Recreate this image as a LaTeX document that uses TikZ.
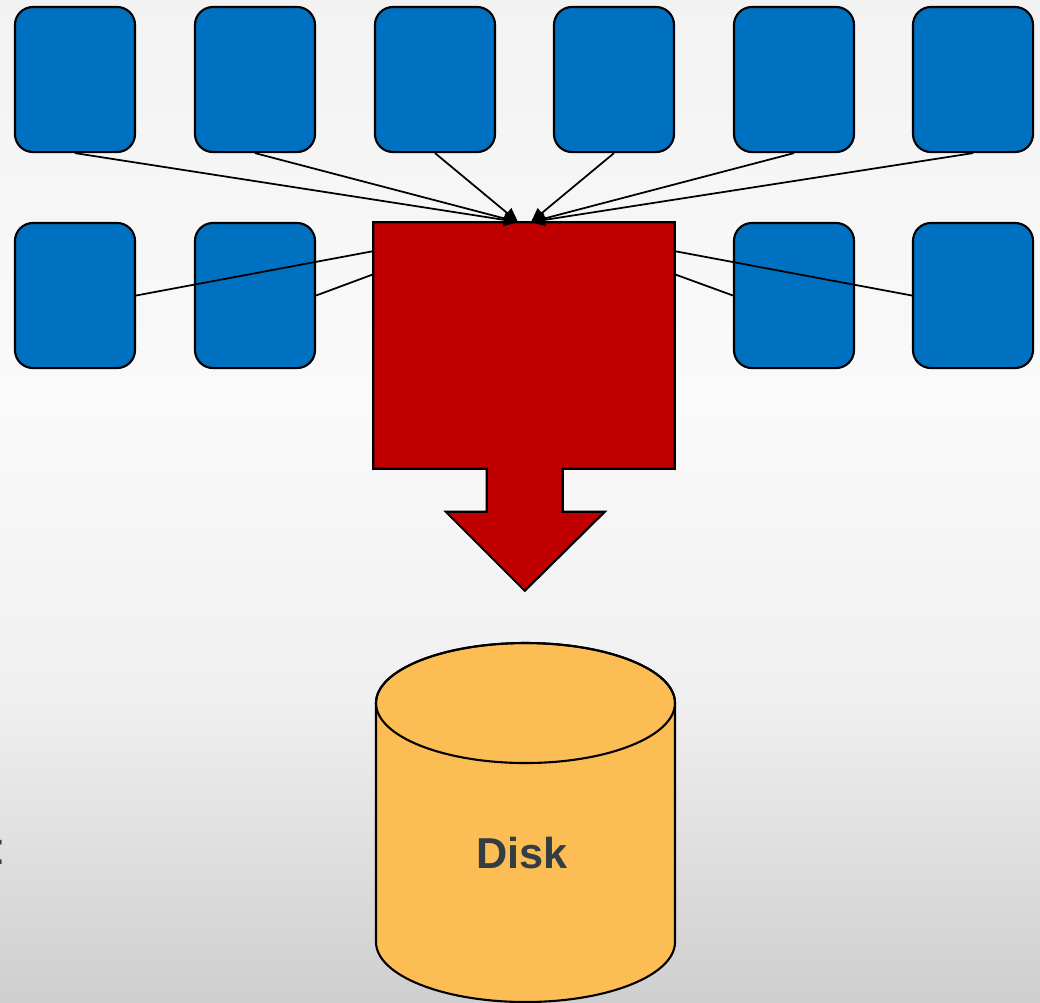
\documentclass[tikz,border=0pt]{standalone}
\usepackage{fontspec}
\setmainfont{Liberation Sans}
\usetikzlibrary{arrows.meta, positioning}

\definecolor{procblue}{HTML}{0070C0}
\definecolor{bufred}{HTML}{C00000}
\definecolor{diskorange}{HTML}{FDBD55}
\definecolor{labelgray}{HTML}{333D42}

\tikzset{
  proc/.style={draw, fill=procblue, line width=0.6pt, rounded corners=0.18cm,
    minimum width=1.2cm, minimum height=1.45cm, inner sep=0pt},
  feed/.style={line width=0.5pt},
}

\begin{document}
\begin{tikzpicture}[x=0.01cm, y=-0.01cm, >={Triangle[length=4pt, width=3.6pt]}]
  \useasboundingbox (0,0) rectangle (1040,1002);
  % backdrop, light on top and greying towards the bottom
  \shade[top color=black!5, bottom color=black!2] (0,0) rectangle (1040,400.5);
  \shade[top color=black!2, bottom color=black!6] (0,400) rectangle (1040,700.5);
  \shade[top color=black!6, bottom color=black!19] (0,700) rectangle (1040,1002);

  % processes, top row
  \node[proc] (t1) at (75, 79.5)  {};
  \node[proc] (t2) at (255, 79.5) {};
  \node[proc] (t3) at (435, 79.5) {};
  \node[proc] (t4) at (614, 79.5) {};
  \node[proc] (t5) at (794, 79.5) {};
  \node[proc] (t6) at (973, 79.5) {};
  % processes, second row
  \node[proc] (m1) at (75, 295.5)  {};
  \node[proc] (m2) at (255, 295.5) {};
  \node[proc] (m5) at (794, 295.5) {};
  \node[proc] (m6) at (973, 295.5) {};

  % shared buffer with the flush arrow
  \node[minimum width=3cm, minimum height=2.45cm, inner sep=0pt] (buf) at (524, 345.5) {};
  \draw[fill=bufred, line width=0.6pt] (buf.north west) -- (buf.north east) -- (buf.south east)
    -- ++(-112,0) -- ++(0,43) -- ++(42,0) -- ++(-80,79) -- ++(-79,-79) -- ++(41,0)
    -- ++(0,-43) -- (buf.south west) -- cycle;

  \coordinate (inL) at (518, 222);
  \coordinate (inR) at (531, 222);
  \foreach \p in {t1, t2, t3} \draw[feed, ->] (\p.south) -- (inL);
  \foreach \p in {t4, t5, t6} \draw[feed, ->] (\p.south) -- (inR);

  \draw[feed] (m1.east) -- (374, 251);
  \draw[feed] (m2.east) -- (374, 274);
  \draw[feed] (m5.west) -- (674, 274);
  \draw[feed] (m6.west) -- (674, 251);

  % disk (y axis points down here, so the arcs run the other way)
  \draw[fill=diskorange, line width=0.6pt] (376, 703) -- (376, 942)
    arc[start angle=180, end angle=0, x radius=149.5, y radius=60] -- (675, 703)
    arc[start angle=0, end angle=-180, x radius=149.5, y radius=60] -- cycle;
  \draw[line width=0.6pt] (376, 703) arc[start angle=180, end angle=-180, x radius=149.5, y radius=60];
  \node[text=labelgray, font=\fontsize{12.3}{14}\selectfont\bfseries] (disk) at (522, 853) {Disk};

  \node[text=labelgray, font=\fontsize{13}{15}\selectfont, anchor=base west, inner sep=0pt] (cut) at (-7, 864) {:};
\end{tikzpicture}
\end{document}
